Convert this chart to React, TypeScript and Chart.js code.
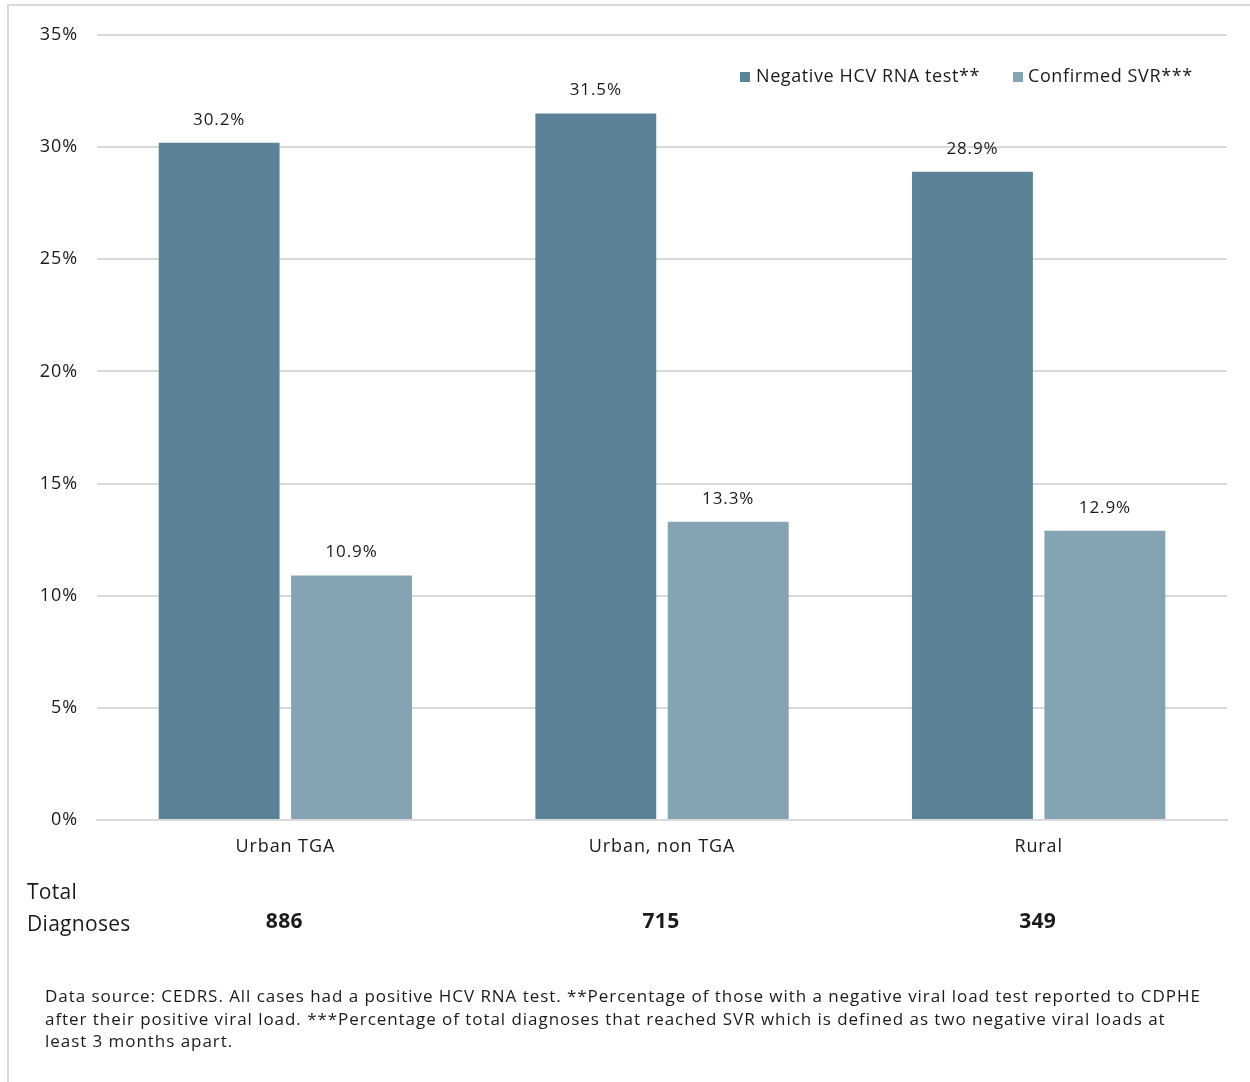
import React, { useEffect, useRef } from "react";
import { Chart, registerables } from "chart.js";

Chart.register(...registerables);

const categories = ["Urban TGA", "Urban, non TGA", "Rural"];
const negativeRna = [30.2, 31.5, 28.9];
const confirmedSvr = [10.9, 13.3, 12.9];
const totalDiagnoses = [886, 715, 349];
const seriesNames = ["Negative HCV RNA test**", "Confirmed SVR***"];
const colors = ["#5b8397", "#84a3b3"];
const footnoteLines = [
  "Data source: CEDRS. All cases had a positive HCV RNA test. **Percentage of those with a negative viral load test reported to CDPHE",
  "after their positive viral load. ***Percentage of total diagnoses that reached SVR which is defined as two negative viral loads at",
  "least 3 months apart.",
];

const FONT = "'Open Sans', 'Noto Sans', sans-serif";
const SPACING = "0.9px";

const spacingPlugin = {
  id: "spacing",
  beforeDraw(chart: any) {
    chart.ctx.letterSpacing = SPACING;
  },
};

const overlayPlugin = {
  id: "overlay",
  afterDatasetsDraw(chart: any) {
    const ctx = chart.ctx;
    ctx.save();
    ctx.letterSpacing = SPACING;
    // value labels
    ctx.font = `17px ${FONT}`;
    ctx.fillStyle = "#1a1a1a";
    ctx.textAlign = "center";
    ctx.textBaseline = "middle";
    chart.data.datasets.forEach((ds: any, di: number) => {
      const meta = chart.getDatasetMeta(di);
      meta.data.forEach((bar: any, i: number) => {
        ctx.fillText(ds.data[i].toFixed(1) + "%", bar.x, bar.y - 23);
      });
    });
    // legend
    const area = chart.chartArea;
    ctx.font = `18px ${FONT}`;
    ctx.letterSpacing = "0.6px";
    ctx.textAlign = "left";
    const ly = 77;
    const s1 = area.right - 487;
    const t1 = area.right - 471;
    const s2 = area.right - 214;
    const t2 = area.right - 199;
    ctx.fillStyle = colors[0];
    ctx.fillRect(s1, ly - 5, 10, 10);
    ctx.fillStyle = colors[1];
    ctx.fillRect(s2, ly - 5, 10, 10);
    ctx.fillStyle = "#1a1a1a";
    ctx.fillText(seriesNames[0], t1, ly);
    ctx.fillText(seriesNames[1], t2, ly);
    // totals
    const xs = chart.scales.x;
    ctx.letterSpacing = "0.3px";
    ctx.font = `21px ${FONT}`;
    ctx.fillText("Total", 27, 893);
    ctx.fillText("Diagnoses", 27, 925);
    ctx.font = `bold 21px ${FONT}`;
    ctx.textAlign = "center";
    totalDiagnoses.forEach((t, i) => {
      ctx.fillText(String(t), xs.getPixelForValue(i) - 1, 922);
    });
    ctx.restore();
  },
};

export default function App() {
  const ref = useRef<HTMLCanvasElement | null>(null);
  useEffect(() => {
    if (!ref.current) return;
    const chart = new Chart(ref.current, {
      type: "bar",
      data: {
        labels: categories,
        datasets: [
          { label: seriesNames[0], data: negativeRna, backgroundColor: colors[0] },
          { label: seriesNames[1], data: confirmedSvr, backgroundColor: colors[1] },
        ],
      },
      options: {
        animation: false,
        responsive: false,
        maintainAspectRatio: false,
        layout: { padding: { top: 35, left: 0, right: 23, bottom: 212 } },
        datasets: { bar: { categoryPercentage: 0.703, barPercentage: 0.913 } },
        plugins: { legend: { display: false }, tooltip: { enabled: false } },
        scales: {
          x: {
            grid: { display: false, drawTicks: false },
            border: { display: true, color: "#d9d9d9", width: 2 },
            ticks: { color: "#1a1a1a", font: { family: FONT, size: 18 }, padding: 16 },
            afterFit: (axis: any) => { axis.height = 50; },
          },
          y: {
            min: 0,
            max: 35,
            ticks: {
              stepSize: 5,
              color: "#1a1a1a",
              font: { family: FONT, size: 18 },
              padding: 19,
              callback: (v: any) => v + "%",
            },
            grid: { color: "#d9d9d9", lineWidth: 2, drawTicks: false },
            border: { display: false },
            afterFit: (axis: any) => { axis.width = 97; },
          },
        },
      },
      plugins: [spacingPlugin, overlayPlugin],
    } as any);
    return () => chart.destroy();
  }, []);

  return (
    <div style={{ position: "fixed", left: 0, top: 0, width: 1250, height: 1082, background: "#fff" }}>
      <div
        style={{
          position: "absolute",
          left: 7,
          top: 4,
          right: 0,
          bottom: 0,
          borderLeft: "2px solid #d9d9d9",
          borderTop: "2px solid #d9d9d9",
        }}
      />
      <canvas ref={ref} width={1250} height={1082} style={{ position: "absolute", left: 0, top: 0 }} />
      <div
        style={{
          position: "absolute",
          left: 45,
          top: 985,
          fontFamily: FONT,
          fontSize: 17,
          letterSpacing: "0.95px",
          lineHeight: "22.5px",
          color: "#1a1a1a",
          whiteSpace: "pre",
        }}
      >
        {footnoteLines.map((l, i) => (
          <div key={i}>{l}</div>
        ))}
      </div>
    </div>
  );
}
